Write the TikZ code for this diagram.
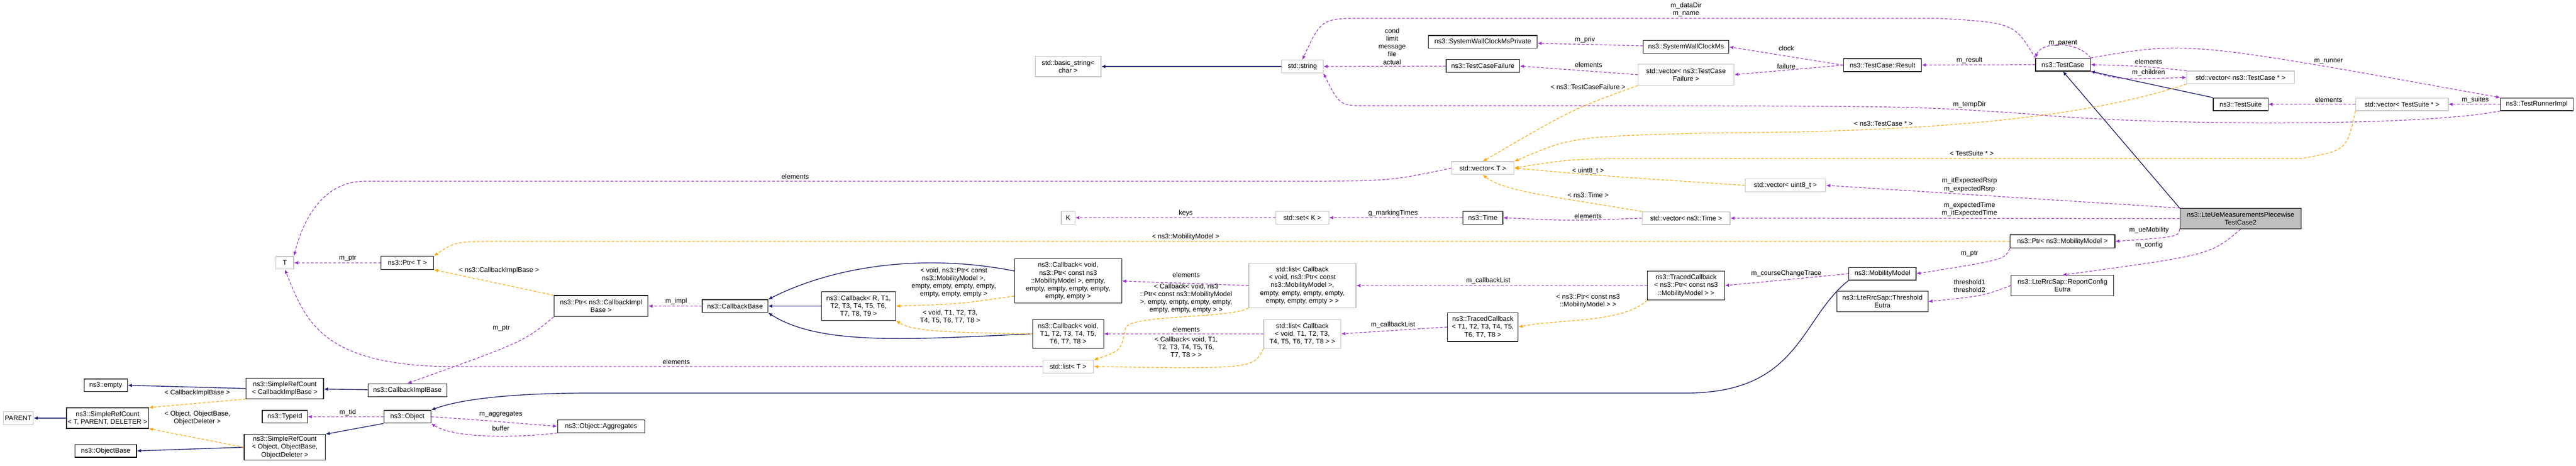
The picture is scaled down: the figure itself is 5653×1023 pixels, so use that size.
\documentclass[tikz,border=0pt]{standalone}
\usepackage{fontspec}
\setmainfont{Liberation Sans}
\usetikzlibrary{arrows.meta}
\definecolor{pur}{HTML}{9A32CD}
\definecolor{org}{HTML}{FFA500}
\definecolor{nav}{HTML}{191970}
\definecolor{gbd}{HTML}{BFBFBF}
\tikzset{
 every node/.style={font=\fontsize{4.2}{4.85}\selectfont, inner sep=0.5pt, align=center},
 cls/.style={draw=black, line width=0.4pt, fill=white},
 ext/.style={draw=gbd, line width=0.4pt, fill=white},
 mainn/.style={draw=black, line width=0.4pt, fill=gbd},
 lab/.style={fill=none},
 use/.style={draw=pur, line width=0.4pt, dash pattern=on 1.7pt off 1.1pt, -{Latex[length=2.6pt,width=2.2pt]}},
 tmpl/.style={draw=org, line width=0.4pt, dash pattern=on 1.7pt off 1.1pt, -{Latex[length=2.6pt,width=2.2pt]}},
 inh/.style={draw=nav, line width=0.45pt, -{Latex[length=2.6pt,width=2.2pt]}},
}
\begin{document}
\begin{tikzpicture}[x=0.01cm,y=-0.01cm]
\useasboundingbox (0,0) rectangle (5653,1023);
% ---------- nodes
\node[ext,minimum width=0.39cm,minimum height=0.28cm] (T) at (625,577) {T};
\node[cls,minimum width=1.15cm,minimum height=0.29cm] (ptrT) at (894,577) {ns3::Ptr< T >};
\node[cls,minimum width=0.95cm,minimum height=0.28cm] (empty) at (232,846) {ns3::empty};
\node[cls,minimum width=1.70cm,minimum height=0.45cm] (srcCIB) at (625,853) {ns3::SimpleRefCount\\< CallbackImplBase >};
\node[cls,minimum width=1.73cm,minimum height=0.29cm] (cib) at (894,857) {ns3::CallbackImplBase};
\node[cls,minimum width=1.80cm,minimum height=0.45cm] (srcT) at (236,918) {ns3::SimpleRefCount\\< T, PARENT, DELETER >};
\node[ext,minimum width=0.66cm,minimum height=0.28cm] (parent) at (40,918) {PARENT};
\node[cls,minimum width=1.35cm,minimum height=0.28cm] (objbase) at (232,990) {ns3::ObjectBase};
\node[cls,minimum width=0.99cm,minimum height=0.28cm] (typeid) at (625,915) {ns3::TypeId};
\node[cls,minimum width=1.03cm,minimum height=0.28cm] (object) at (894,915) {ns3::Object};
\node[cls,minimum width=1.78cm,minimum height=0.56cm] (srcObj) at (625,982) {ns3::SimpleRefCount\\< Object, ObjectBase,\\ ObjectDeleter >};
\node[cls,minimum width=2.06cm,minimum height=0.46cm] (ptrCIB) at (1319,672) {ns3::Ptr< ns3::CallbackImpl\\Base >};
\node[cls,minimum width=1.44cm,minimum height=0.28cm] (cbb) at (1613,672) {ns3::CallbackBase};
\node[cls,minimum width=1.63cm,minimum height=0.63cm] (cbR) at (1884,672) {ns3::Callback< R, T1,\\T2, T3, T4, T5, T6,\\ T7, T8, T9 >};
\node[cls,minimum width=1.91cm,minimum height=0.28cm] (aggr) at (1319,936) {ns3::Object::Aggregates};
\node[cls,minimum width=2.35cm,minimum height=0.97cm] (cbP) at (2344,617) {ns3::Callback< void,\\ns3::Ptr< const ns3\\::MobilityModel >, empty,\\empty, empty, empty, empty,\\empty, empty >};
\node[ext,minimum width=2.35cm,minimum height=0.97cm] (lstP) at (2858,627) {std::list< Callback\\< void, ns3::Ptr< const\\ns3::MobilityModel >,\\empty, empty, empty, empty,\\empty, empty, empty > >};
\node[cls,minimum width=1.56cm,minimum height=0.63cm] (cbT) at (2344,733) {ns3::Callback< void,\\T1, T2, T3, T4, T5,\\T6, T7, T8 >};
\node[ext,minimum width=1.69cm,minimum height=0.63cm] (lstT) at (2858,733) {std::list< Callback\\< void, T1, T2, T3,\\T4, T5, T6, T7, T8 > >};
\node[cls,minimum width=1.55cm,minimum height=0.63cm] (tcT) at (3254,718) {ns3::TracedCallback\\< T1, T2, T3, T4, T5,\\T6, T7, T8 >};
\node[ext,minimum width=1.11cm,minimum height=0.28cm] (listT) at (2344,805) {std::list< T >};
\node[ext,minimum width=1.37cm,minimum height=0.28cm] (vecT) at (3254,369) {std::vector< T >};
\node[ext,minimum width=1.16cm,minimum height=0.28cm] (setK) at (2858,478) {std::set< K >};
\node[cls,minimum width=0.88cm,minimum height=0.28cm] (time) at (3254,478) {ns3::Time};
\node[ext,minimum width=0.30cm,minimum height=0.28cm] (K) at (2344,478) {K};
\node[ext,minimum width=1.44cm,minimum height=0.45cm] (bstr) at (2344,146) {std::basic\_string<\\char >};
\node[ext,minimum width=0.91cm,minimum height=0.28cm] (str) at (2858,146) {std::string};
\node[cls,minimum width=2.38cm,minimum height=0.28cm] (swcp) at (3254,92) {ns3::SystemWallClockMsPrivate};
\node[cls,minimum width=1.61cm,minimum height=0.28cm] (tcf) at (3254,145) {ns3::TestCaseFailure};
\node[cls,minimum width=1.88cm,minimum height=0.28cm] (swc) at (3700,103) {ns3::SystemWallClockMs};
\node[ext,minimum width=2.10cm,minimum height=0.46cm] (vecTCF) at (3700,164) {std::vector< ns3::TestCase\\Failure >};
\node[cls,minimum width=1.71cm,minimum height=0.28cm] (res) at (4131,143) {ns3::TestCase::Result};
\node[cls,minimum width=1.20cm,minimum height=0.28cm] (tc) at (4527,142) {ns3::TestCase};
\node[ext,minimum width=2.36cm,minimum height=0.28cm] (vecTC) at (4917,170) {std::vector< ns3::TestCase * >};
\node[cls,minimum width=1.20cm,minimum height=0.28cm] (ts) at (4917,229) {ns3::TestSuite};
\node[ext,minimum width=2.03cm,minimum height=0.28cm] (vecTS) at (5271,229) {std::vector< TestSuite * >};
\node[cls,minimum width=1.59cm,minimum height=0.28cm] (tri) at (5567,229) {ns3::TestRunnerImpl};
\node[ext,minimum width=1.77cm,minimum height=0.28cm] (vecU8) at (3918,407) {std::vector< uint8\_t >};
\node[ext,minimum width=1.93cm,minimum height=0.28cm] (vecTime) at (3700,479) {std::vector< ns3::Time >};
\node[mainn,minimum width=2.66cm,minimum height=0.45cm] (main) at (4917,480) {ns3::LteUeMeasurementsPiecewise\\TestCase2};
\node[cls,minimum width=2.30cm,minimum height=0.29cm] (ptrMM) at (4526,530) {ns3::Ptr< ns3::MobilityModel >};
\node[cls,minimum width=1.47cm,minimum height=0.28cm] (mm) at (4131,601) {ns3::MobilityModel};
\node[cls,minimum width=1.69cm,minimum height=0.63cm] (tcP) at (3700,627) {ns3::TracedCallback\\< ns3::Ptr< const ns3\\::MobilityModel > >};
\node[cls,minimum width=2.25cm,minimum height=0.45cm] (rce) at (4526,627) {ns3::LteRrcSap::ReportConfig\\Eutra};
\node[cls,minimum width=2.00cm,minimum height=0.45cm] (te) at (4131,662) {ns3::LteRrcSap::Threshold\\Eutra};
% ---------- inheritance
\draw[inh] (str) -- (bstr);
\draw[inh] (srcCIB.west) -- (empty.east);
\draw[inh] (cib) -- (srcCIB);
\draw[inh] (srcT.west) -- (parent.east);
\draw[inh] (object.south west) -- (srcObj.north east);
\draw[inh] (srcObj.west) -- (objbase.east);
\draw[inh] (cbR) -- (cbb);
\draw[inh] (cbP.west|-0,595) .. controls (2050,560) and (1850,575) .. (cbb.north east);
\draw[inh] (cbT.west) .. controls (2000,745) and (1800,760) .. (cbb.south east);
\draw[inh] (mm.south west) .. controls (3950,700) and (3950,863) .. (3700,863) -- (1300,863) .. controls (1100,863) and (1000,880) .. (object.north east);
\draw[inh] (ts.north west) -- (tc.south east);
\draw[inh] (main.north west) -- (tc.south);
% ---------- usage
\draw[use] (vecT.west) .. controls (3050,398) .. (2800,398) -- (800,398) .. controls (700,398) and (660,500) .. (T.north east);
\node[lab] at (1745,388) {elements};
\draw[use] (listT.west) -- (1000,805) .. controls (700,805) and (670,700) .. (T.south);
\node[lab] at (1484,795) {elements};
\draw[use] (ptrT) -- (T);  \node[lab] at (763,567) {m\_ptr};
\draw[use] (setK) -- (K);  \node[lab] at (2602,468) {keys};
\draw[use] (ptrCIB.south west) .. controls (1150,750) .. (cib.north);  \node[lab] at (1100,721) {m\_ptr};
\draw[use] (cbb) -- (ptrCIB);  \node[lab] at (1484,662) {m\_impl};
\draw[use] (object) -- (typeid);  \node[lab] at (763,906) {m\_tid};
\draw[use] (object.east) .. controls (1050,922) .. (aggr.west);  \node[lab] at (1099,910) {m\_aggregates};
\draw[use] (aggr.south west) .. controls (1150,960) and (1000,965) .. (object.south east);  \node[lab] at (1099,940) {buffer};
\draw[use] (lstP.west) -- (cbP.east);  \node[lab] at (2603,603) {elements};
\draw[use] (tcP.west) -- (lstP.east);  \node[lab] at (3266,616) {m\_callbackList};
\draw[use] (lstT.west) -- (cbT.east);  \node[lab] at (2603,723) {elements};
\draw[use] (tcT.west) -- (lstT.east);  \node[lab] at (3057,714) {m\_callbackList};
\draw[use] (time) -- (setK);  \node[lab] at (3057,468) {g\_markingTimes};
\draw[use] (vecTime.west) .. controls (3450,485) .. (time.east);  \node[lab] at (3485,475) {elements};
\draw[use] (tcf) -- (str);  \node[lab] at (3055,102) {cond\\limit\\message\\file\\actual};
\draw[use] (tc.north west) .. controls (4420,50) .. (4250,40) -- (3000,40) .. controls (2900,40) .. (str.north);
\node[lab] at (3700,21) {m\_dataDir\\m\_name};
\draw[use] (tri.south west) .. controls (5300,280) and (4700,275) .. (4450,250) .. controls (4200,233) .. (3500,232) -- (3000,232) .. controls (2940,232) .. (str.south east);
\node[lab] at (4322,230) {m\_tempDir};
\draw[use] (swc) -- (swcp);  \node[lab] at (3478,87) {m\_priv};
\draw[use] (vecTCF.west) -- (tcf.east);  \node[lab] at (3486,142) {elements};
\draw[use] (res.west) -- (swc.east);  \node[lab] at (3920,106) {clock};
\draw[use] (res.west) -- (vecTCF.east);  \node[lab] at (3920,146) {failure};
\draw[use] (tc) -- (res);  \node[lab] at (4322,132) {m\_result};
\draw[use] (tc.north east) .. controls (4560,90) and (4480,90) .. (tc.north west);  \node[lab] at (4527,95) {m\_parent};
\draw[use] (vecTC.north west) .. controls (4700,145) .. (tc.east);  \node[lab] at (4715,136) {elements};
\draw[use] (tc.south east) .. controls (4650,175) .. (vecTC.west);  \node[lab] at (4715,160) {m\_children};
\draw[use] (tc.north east) .. controls (4800,90) .. (tri.north west);  \node[lab] at (5110,135) {m\_runner};
\draw[use] (vecTS) -- (ts);  \node[lab] at (5110,219) {elements};
\draw[use] (tri) -- (vecTS);  \node[lab] at (5432,219) {m\_suites};
\draw[use] (main.north west) -- (vecU8.east);  \node[lab] at (4322,406) {m\_itExpectedRsrp\\m\_expectedRsrp};
\draw[use] (main.west) -- (vecTime.east);  \node[lab] at (4322,460) {m\_expectedTime\\m\_itExpectedTime};
\draw[use] (main.south west) .. controls (4780,520) .. (ptrMM.east);  \node[lab] at (4716,505) {m\_ueMobility};
\draw[use] (main.south) .. controls (4850,560) .. (rce.north);  \node[lab] at (4716,538) {m\_config};
\draw[use] (ptrMM.south west) .. controls (4400,570) .. (mm.east);  \node[lab] at (4322,557) {m\_ptr};
\draw[use] (mm.west) -- (tcP.east);  \node[lab] at (3920,600) {m\_courseChangeTrace};
\draw[use] (rce.west) .. controls (4350,650) .. (te.east);  \node[lab] at (4322,628) {threshold1\\threshold2};
% ---------- template instances
\draw[tmpl] (ptrMM.west) -- (1100,530) .. controls (1000,530) .. (ptrT.north east);
\node[lab] at (2602,520) {< ns3::MobilityModel >};
\draw[tmpl] (ptrCIB.north west) -- (ptrT.south east);  \node[lab] at (1095,594) {< ns3::CallbackImplBase >};
\draw[tmpl] (srcCIB.south west) -- (srcT.north east);  \node[lab] at (433,863) {< CallbackImplBase >};
\draw[tmpl] (srcObj.west) -- (srcT.south east);  \node[lab] at (433,918) {< Object, ObjectBase,\\ObjectDeleter >};
\draw[tmpl] (cbP.west|-0,650) .. controls (2100,668) .. (cbR.east);
\node[lab] at (2093,620) {< void, ns3::Ptr< const\\ns3::MobilityModel >,\\empty, empty, empty, empty,\\empty, empty, empty >};
\draw[tmpl] (cbT.west) .. controls (2050,730) and (2000,725) .. (cbR.south east);
\node[lab] at (2085,695) {< void, T1, T2, T3,\\T4, T5, T6, T7, T8 >};
\draw[tmpl] (lstP.south west) .. controls (2700,700) and (2480,690) .. (2470,720) .. controls (2460,770) .. (listT.north east);
\node[lab] at (2603,655) {< Callback< void, ns3\\::Ptr< const ns3::MobilityModel\\>, empty, empty, empty, empty,\\empty, empty, empty > >};
\draw[tmpl] (lstT.south west) .. controls (2750,810) .. (listT.east);
\node[lab] at (2603,763) {< Callback< void, T1,\\T2, T3, T4, T5, T6,\\T7, T8 > >};
\draw[tmpl] (tcP.south west) .. controls (3560,710) and (3420,700) .. (tcT.east);
\node[lab] at (3485,661) {< ns3::Ptr< const ns3\\::MobilityModel > >};
\draw[tmpl] (vecTCF.south west) .. controls (3450,240) .. (vecT.north);
\node[lab] at (3485,191) {< ns3::TestCaseFailure >};
\draw[tmpl] (vecTC.south west) .. controls (4600,250) and (4300,290) .. (3750,292) .. controls (3450,300) .. (vecT.north east);
\node[lab] at (4133,271) {< ns3::TestCase * >};
\draw[tmpl] (vecTS.south west) .. controls (5150,330) .. (5050,348) -- (3700,348) .. controls (3450,348) .. (vecT.east);
\node[lab] at (4327,337) {< TestSuite * >};
\draw[tmpl] (vecU8.west) .. controls (3500,385) .. (vecT.east);  \node[lab] at (3485,375) {< uint8\_t >};
\draw[tmpl] (vecTime.north west) .. controls (3400,430) and (3300,420) .. (vecT.south);
\node[lab] at (3485,428) {< ns3::Time >};
\end{tikzpicture}
\end{document}
